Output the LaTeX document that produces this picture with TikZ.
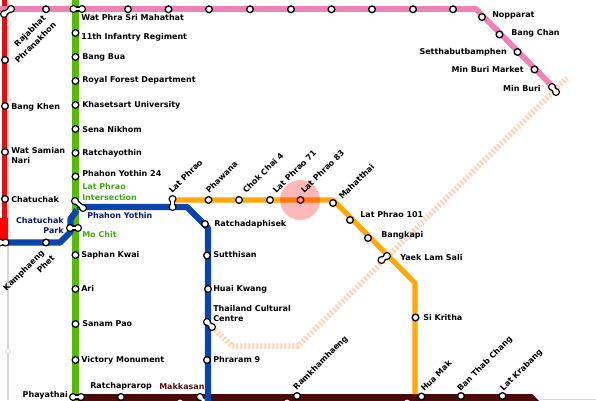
\documentclass[tikz,border=0pt]{standalone}
\usepackage{fontspec}
\setmainfont{DejaVu Sans}
\definecolor{lpink}{HTML}{EE82B4}
\definecolor{lred}{HTML}{E01010}
\definecolor{lgreen}{HTML}{55BB08}
\definecolor{lblue}{HTML}{0B45AC}
\definecolor{lorange}{HTML}{FFA808}
\definecolor{lmaroon}{HTML}{4A0A0A}
\definecolor{lpeach}{HTML}{FFD2B4}
\definecolor{lgrey}{HTML}{D8D8D8}
\definecolor{tgreen}{HTML}{44AA11}
\definecolor{tnavy}{HTML}{0A1A78}
\definecolor{tmaroon}{HTML}{5A1010}
\tikzset{
 stn/.style={circle,draw=black,fill=white,line width=1pt,inner sep=0pt,minimum size=5pt},
 ghost/.style={circle,draw=lgrey,fill=white,line width=0.6pt,inner sep=0pt,minimum size=3.6pt},
 lbl/.style={font=\bfseries\fontsize{6}{7.9}\selectfont,text=black,inner sep=0pt,align=left},
 rt/.style={lbl,anchor=west},
 lf/.style={lbl,anchor=east,align=right},
 up/.style={lbl,anchor=west,rotate=45},
 link/.style={line width=4pt,draw=black,line cap=round},
 linkw/.style={line width=2pt,draw=white,line cap=round},
 route/.style={line width=#1,line join=round}
}
\newcommand{\ichg}[5]{% name, x1,y1,x2,y2
 \node[stn] (#1a) at (#2,#3) {};
 \node[stn] (#1b) at (#4,#5) {};
 \draw[link] (#1a.center) -- (#1b.center);
 \draw[linkw] (#1a.center) -- (#1b.center);
 \node[stn,draw=none,minimum size=4pt] at (#1a.center) {};
 \node[stn,draw=none,minimum size=4pt] at (#1b.center) {};
}
\begin{document}
\begin{tikzpicture}[x=0.75pt,y=-0.75pt]
\useasboundingbox (0,0) rectangle (596,400);
\fill[white] (0,0) rectangle (596,400);
% grey line
\draw[lgrey,line width=1.6pt] (8,0) -- (8,400);
\draw[lgrey,line width=0.8pt] (540,399.6) -- (596,399.6);
\node[ghost] (g1) at (8.5,24) {};
\node[ghost] (g2) at (8.5,99) {};
\node[ghost] (g3) at (8.5,234) {};
\node[ghost] (g4) at (8,351) {};
% peach
\draw[lpeach,line width=4.2pt,dash pattern=on 1.5pt off 1.5pt] (212,327) -- (232,346) -- (298,346) -- (567,78);
% lines
\draw[lred,route=4.2pt] (4.5,-2) -- (4.5,243);
\fill[red] (0,218) rectangle (8,241);
\draw[lpink,route=4.3pt] (-2,9) -- (476,9) -- (555,89);
\draw[lgreen,route=4.7pt] (75.5,-2) -- (75.5,402);
\fill[lmaroon] (78,394) -- (532,394) -- (540,402) -- (78,402) -- cycle;
\node[stn,draw=none,minimum size=5pt] (w1) at (180,403) {};
\node[stn,draw=none,minimum size=5pt] (w2) at (287,403) {};
\node[stn,draw=none,minimum size=5pt] (w3) at (407,403) {};
\ichg{mk}{200}{397}{205}{402}
\draw[lblue,route=4.7pt] (-2,242.5) -- (60,242.5) -- (70.5,232) -- (70.5,219) -- (77,210);
\draw[lblue,route=4.7pt] (77,207) -- (187,207) -- (208,228) -- (208,402);
\draw[lorange,route=3.9pt] (172,200) -- (333,200) -- (415,283) -- (415,394);
\fill[red,opacity=0.28] (300,200) circle[radius=20];
% pink stations
\foreach \n/\x in {p1/46,p2/128,p3/168.5,p4/209,p5/250,p6/291,p7/331.5,p8/372,p9/413,p10/453}
 \node[stn] (\n) at (\x,9.3) {};
\node[stn] (nop) at (482,17) {};
\node[stn] (ban) at (499.5,34.5) {};
\node[stn] (set) at (517.5,52) {};
\node[stn] (mbm) at (534.5,69.5) {};
\ichg{mb}{552}{87}{556}{92}
\ichg{rp}{4}{14}{11}{9}
\ichg{wp}{73.5}{9}{82}{9}
% red
\node[stn] (r1) at (5,60) {};
\node[stn] (r2) at (5,106) {};
\node[stn] (r3) at (5,152) {};
\node[stn] (r4) at (5,199) {};
% green
\foreach \n/\y in {g11/33,gbb/57,grf/81,gkh/105,gse/129,gra/153,gpy/176.5,gsa/255,gar/289,gsp/324,gvm/360}
 \node[stn] (\n) at (75.5,\y) {};
\ichg{li}{75}{201}{83}{208}
\ichg{mc}{70}{228}{78}{228}
\ichg{ph}{73}{397}{81}{397}
% blue
\ichg{kp}{0}{242.5}{5.5}{242.5}
\node[stn] (bkp) at (46,242.5) {};
\node[stn] (brp) at (205,224) {};
\node[stn] (bsu) at (207,255.5) {};
\node[stn] (bhk) at (208,289) {};
\ichg{tc}{207}{322}{212}{327}
\node[stn] (bp9) at (207,360) {};
% orange
\ichg{lp}{172.5}{199}{172.5}{207}
\foreach \n/\x in {oph/208.5,och/239,o71/270}
 \node[stn] (\n) at (\x,200) {};
\node[stn,fill=white!60!red,draw=black!70!red] (o83) at (300.5,200) {};
\node[stn] (oma) at (333,203) {};
\node[stn] (o10) at (350,220) {};
\node[stn] (oba) at (368,238) {};
\ichg{yl}{381.5}{260}{387}{256}
\node[stn] (osi) at (415.5,317.5) {};
% maroon
\node[stn] (mra) at (121,397) {};
\node[stn] (mrk) at (297,396) {};
\node[stn] (mhm) at (421.5,396.5) {};
\node[stn] (mbt) at (461,396) {};
\node[stn] (mlk) at (502.5,396) {};
% labels
\node[rt] (t1) at (81,18) {Wat Phra Sri Mahathat};
\node[rt] (t2) at (81,37) {11th Infantry Regiment};
\node[rt] (t3) at (82,57) {Bang Bua};
\node[rt] (t4) at (82,80.5) {Royal Forest Department};
\node[rt] (t5) at (82,105) {Khasetsart University};
\node[rt] (t6) at (82,129.5) {Sena Nikhom};
\node[rt] (t7) at (82,153) {Ratchayothin};
\node[rt] (t8) at (82,174) {Phahon Yothin 24};
\node[rt,text=tgreen] (t9) at (82,192) {Lat Phrao\\Intersection};
\node[rt,text=tnavy] (t10) at (87,215.5) {Phahon Yothin};
\node[rt,text=tgreen] (t11) at (82,234.5) {Mo Chit};
\node[lf,text=tnavy] (t12) at (64,225.5) {Chatuchak\\Park};
\node[rt] (t13) at (81,255) {Saphan Kwai};
\node[rt] (t14) at (81,288) {Ari};
\node[rt] (t15) at (82,324) {Sanam Pao};
\node[rt] (t16) at (81,360) {Victory Monument};
\node[lf] (t17) at (68,395) {Phayathai};
\node[rt] (t18) at (90,386.5) {Ratchaprarop};
\node[rt,text=tmaroon] (t19) at (159,386.5) {Makkasan};
\node[rt] (t20) at (11,107) {Bang Khen};
\node[rt] (t21) at (11,155.5) {Wat Samian\\Nari};
\node[rt] (t22) at (11,199.5) {Chatuchak};
\node[up] (t23) at (16,46) {Rajabhat};
\node[up] (t24) at (16,62) {Phranakhon};
\node[up] (t25) at (5,290) {Kamphaeng};
\node[up] (t26) at (38,272) {Phet};
\node[up] (t27) at (170,192) {Lat Phrao};
\node[up] (t28) at (207,192) {Phawana};
\node[up] (t29) at (244,192) {Chok Chai 4};
\node[up] (t30) at (274,192) {Lat Phrao 71};
\node[up] (t31) at (302,192) {Lat Phrao 83};
\node[up] (t32) at (340,198) {Mahatthai};
\node[rt] (t33) at (360,215) {Lat Phrao 101};
\node[rt] (t34) at (381,235) {Bangkapi};
\node[rt] (t35) at (400,257.5) {Yaek Lam Sali};
\node[rt] (t36) at (423,318) {Si Kritha};
\node[rt] (t37) at (214,224.5) {Ratchadaphisek};
\node[rt] (t38) at (213,254.5) {Sutthisan};
\node[rt] (t39) at (213,289) {Huai Kwang};
\node[rt] (t40) at (213,313.5) {Thailand Cultural\\Centre};
\node[rt] (t41) at (213,360) {Phraram 9};
\node[up] (t42) at (295,389) {Ramkhamhaeng};
\node[up] (t43) at (422,390) {Hua Mak};
\node[up] (t44) at (459,390) {Ban Thab Chang};
\node[up] (t45) at (502,390) {Lat Krabang};
\node[rt] (t46) at (492,15) {Nopparat};
\node[rt] (t47) at (511,33) {Bang Chan};
\node[lf] (t48) at (507,52) {Setthabutbamphen};
\node[lf] (t49) at (524,69.5) {Min Buri Market};
\node[lf] (t50) at (541,89) {Min Buri};
\end{tikzpicture}
\end{document}
